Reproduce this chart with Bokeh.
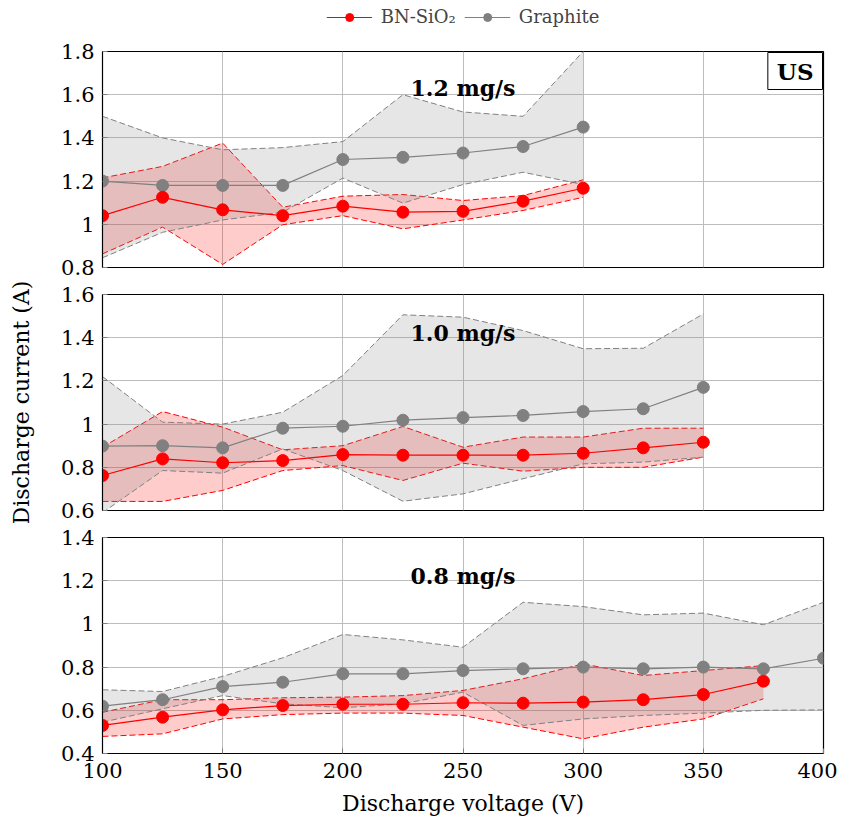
from bokeh.plotting import figure
from bokeh.layouts import column
from bokeh.models import (Range1d, FixedTicker, CustomJSTickFormatter, Legend, LegendItem, Label)
from bokeh.embed import file_html
from bokeh.resources import INLINE

# ---------------- data ----------------
X_TICKS = [100, 150, 200, 250, 300, 350, 400]

# 1.2 mg/s
V_TOP = [100, 125, 150, 175, 200, 225, 250, 275, 300]
gr_top_mean = [1.20, 1.18, 1.18, 1.18, 1.30, 1.31, 1.33, 1.36, 1.45]
gr_top_hi = [1.50, 1.40, 1.345, 1.355, 1.383, 1.60, 1.52, 1.50, 1.80]
gr_top_lo = [0.845, 0.963, 1.02, 1.056, 1.214, 1.098, 1.184, 1.241, 1.184]
bn_top_mean = [1.04, 1.125, 1.067, 1.04, 1.084, 1.056, 1.06, 1.107, 1.167]
bn_top_hi = [1.215, 1.268, 1.376, 1.079, 1.13, 1.138, 1.11, 1.133, 1.206]
bn_top_lo = [0.863, 0.987, 0.814, 0.998, 1.04, 0.979, 1.02, 1.064, 1.125]
Y_TICKS_TOP = [0.8, 1.0, 1.2, 1.4, 1.6, 1.8]

# 1.0 mg/s
V_MID = [100, 125, 150, 175, 200, 225, 250, 275, 300, 325, 350]
gr_mid_mean = [0.898, 0.90, 0.89, 0.981, 0.99, 1.018, 1.03, 1.04, 1.058, 1.071, 1.17]
gr_mid_hi = [1.22, 1.009, 1.0, 1.055, 1.225, 1.506, 1.495, 1.433, 1.349, 1.351, 1.51]
gr_mid_lo = [0.59, 0.785, 0.773, 0.885, 0.785, 0.643, 0.677, 0.747, 0.816, 0.824, 0.847]
bn_mid_mean = [0.762, 0.839, 0.821, 0.831, 0.859, 0.856, 0.856, 0.856, 0.865, 0.89, 0.916]
bn_mid_hi = [0.893, 1.058, 0.986, 0.881, 0.90, 0.989, 0.893, 0.94, 0.94, 0.981, 0.981]
bn_mid_lo = [0.642, 0.642, 0.693, 0.785, 0.808, 0.739, 0.819, 0.782, 0.80, 0.80, 0.847]
Y_TICKS_MID = [0.6, 0.8, 1.0, 1.2, 1.4, 1.6]

# 0.8 mg/s
V_BOT_GR = [100, 125, 150, 175, 200, 225, 250, 275, 300, 325, 350, 375, 400]
V_BOT_BN = [100, 125, 150, 175, 200, 225, 250, 275, 300, 325, 350, 375]
gr_bot_mean = [0.619, 0.649, 0.71, 0.73, 0.769, 0.769, 0.784, 0.792, 0.80, 0.792, 0.80, 0.792, 0.841]
gr_bot_hi = [0.695, 0.687, 0.757, 0.843, 0.951, 0.926, 0.892, 1.10, 1.08, 1.042, 1.05, 0.996, 1.10]
gr_bot_lo = [0.545, 0.607, 0.668, 0.63, 0.612, 0.63, 0.684, 0.53, 0.56, 0.576, 0.587, 0.60, 0.602]
bn_bot_mean = [0.53, 0.568, 0.602, 0.622, 0.628, 0.628, 0.635, 0.633, 0.638, 0.649, 0.673, 0.735]
bn_bot_hi = [0.591, 0.649, 0.649, 0.658, 0.661, 0.668, 0.692, 0.746, 0.815, 0.761, 0.784, 0.807]
bn_bot_lo = [0.479, 0.491, 0.56, 0.58, 0.587, 0.587, 0.576, 0.522, 0.468, 0.522, 0.56, 0.653]
Y_TICKS_BOT = [0.4, 0.6, 0.8, 1.0, 1.2, 1.4]

PANEL_LABELS = ["1.2 mg/s", "1.0 mg/s", "0.8 mg/s"]
SERIES = ["BN-SiO\u2082", "Graphite"]

# ---------------- style ----------------
FONT = "DejaVu Serif"
RED = "#ff0000"
GRAY = "#808080"
GRID = "#bdbdbd"
FW, FH = 721, 216
LEFT, RIGHT = 102, 14

fmt = CustomJSTickFormatter(code="return (Math.round(tick*10)/10).toString();")


def make_panel(ylo, yhi, yticks, show_x, border_top, border_bottom):
    p = figure(frame_width=FW, frame_height=FH, output_backend="svg",
               toolbar_location=None, x_range=Range1d(100, 400),
               y_range=Range1d(ylo, yhi),
               min_border_left=LEFT, min_border_right=RIGHT,
               min_border_top=border_top, min_border_bottom=border_bottom)
    p.outline_line_color = "black"
    p.outline_line_width = 1.2
    p.outline_line_alpha = 1
    p.xaxis.ticker = FixedTicker(ticks=X_TICKS)
    p.yaxis.ticker = FixedTicker(ticks=yticks)
    p.yaxis.formatter = fmt
    for ax in (p.xaxis[0], p.yaxis[0]):
        ax.major_tick_in = 5
        ax.major_tick_out = 0
        ax.minor_tick_in = 0
        ax.minor_tick_out = 0
        ax.axis_line_color = "black"
        ax.major_tick_line_color = "#808080"
        ax.major_label_text_font = FONT
        ax.major_label_text_font_size = "21px"
        ax.major_label_text_color = "black"
        ax.axis_label_text_font = FONT
        ax.axis_label_text_font_style = "normal"
        ax.axis_label_text_font_size = "22px"
        ax.axis_label_text_color = "black"
    p.yaxis.major_label_standoff = 8
    p.xaxis.major_label_standoff = 9
    if not show_x:
        p.xaxis.visible = False
    p.xgrid.grid_line_color = GRID
    p.ygrid.grid_line_color = GRID
    p.xgrid.grid_line_width = 1
    p.ygrid.grid_line_width = 1
    p.background_fill_color = "white"
    p.border_fill_color = "white"
    return p


def draw(p, xg, gm, ghi, glo, xb, bm, bhi, blo):
    # BN-SiO2 band
    p.varea(x=xb, y1=blo, y2=bhi, fill_color=RED, fill_alpha=0.2)
    p.line(xb, bhi, line_color=RED, line_dash="6 3", line_width=1)
    p.line(xb, blo, line_color=RED, line_dash="6 3", line_width=1)
    # Graphite band
    p.varea(x=xg, y1=glo, y2=ghi, fill_color=GRAY, fill_alpha=0.2)
    p.line(xg, ghi, line_color=GRAY, line_dash="6 3", line_width=1)
    p.line(xg, glo, line_color=GRAY, line_dash="6 3", line_width=1)
    # mean lines
    gl = p.line(xg, gm, line_color=GRAY, line_width=1.2)
    gs = p.scatter(xg, gm, size=12, fill_color=GRAY, line_color=GRAY)
    bl = p.line(xb, bm, line_color=RED, line_width=1.2)
    bs = p.scatter(xb, bm, size=12, fill_color=RED, line_color=RED)
    return (bl, bs), (gl, gs)


def panel_label(p, text, y):
    p.add_layout(Label(x=250, y=y, text=text, text_align="center",
                       text_baseline="middle", text_font=FONT,
                       text_font_style="bold", text_font_size="22px",
                       text_color="black"))


# legend strip (its own small figure above the panels; its data lie off-frame)
pl = figure(frame_width=FW, frame_height=38, output_backend="svg",
            toolbar_location=None, x_range=Range1d(100, 400), y_range=Range1d(-1, 0),
            min_border_left=LEFT, min_border_right=RIGHT, min_border_top=0,
            min_border_bottom=0)
pl.axis.visible = False
pl.grid.visible = False
pl.outline_line_color = None
lg_bl = pl.line(V_TOP, bn_top_mean, line_color=RED, line_width=1.2)
lg_bs = pl.scatter(V_TOP, bn_top_mean, size=12, fill_color=RED, line_color=RED)
lg_gl = pl.line(V_TOP, gr_top_mean, line_color=GRAY, line_width=1.2)
lg_gs = pl.scatter(V_TOP, gr_top_mean, size=12, fill_color=GRAY, line_color=GRAY)
legend = Legend(items=[LegendItem(label=SERIES[0], renderers=[lg_bl, lg_bs]),
                       LegendItem(label=SERIES[1], renderers=[lg_gl, lg_gs])],
                orientation="horizontal", location="top_center",
                label_text_font=FONT, label_text_font_size="18px",
                glyph_width=46, glyph_height=20, label_standoff=9,
                spacing=8, border_line_color=None,
                background_fill_alpha=0, margin=6, padding=0)
pl.add_layout(legend, "center")

# top
p1 = make_panel(0.8, 1.8, Y_TICKS_TOP, False, 13, 13)
draw(p1, V_TOP, gr_top_mean, gr_top_hi, gr_top_lo,
     V_TOP, bn_top_mean, bn_top_hi, bn_top_lo)
panel_label(p1, PANEL_LABELS[0], 1.633)
p1.add_layout(Label(x=400, y=1.8, text="US", text_align="right",
                    text_baseline="top", x_offset=-1, y_offset=-1,
                    text_font=FONT, text_font_style="bold",
                    text_font_size="23px", text_color="black",
                    background_fill_color="white", border_line_color="black",
                    border_line_width=1, padding=(9, 5)))

# middle
p2 = make_panel(0.6, 1.6, Y_TICKS_MID, False, 14, 13)
draw(p2, V_MID, gr_mid_mean, gr_mid_hi, gr_mid_lo,
     V_MID, bn_mid_mean, bn_mid_hi, bn_mid_lo)
panel_label(p2, PANEL_LABELS[1], 1.424)
p2.yaxis.axis_label = "Discharge current (A)"
p2.yaxis.axis_label_standoff = 24

# bottom
p3 = make_panel(0.4, 1.4, Y_TICKS_BOT, True, 14, 60)
draw(p3, V_BOT_GR, gr_bot_mean, gr_bot_hi, gr_bot_lo,
     V_BOT_BN, bn_bot_mean, bn_bot_hi, bn_bot_lo)
panel_label(p3, PANEL_LABELS[2], 1.224)
p3.xaxis.axis_label = "Discharge voltage (V)"
p3.xaxis.axis_label_standoff = 10

layout = column(pl, p1, p2, p3, spacing=0)
open("out.html", "w").write(file_html(layout, INLINE))
